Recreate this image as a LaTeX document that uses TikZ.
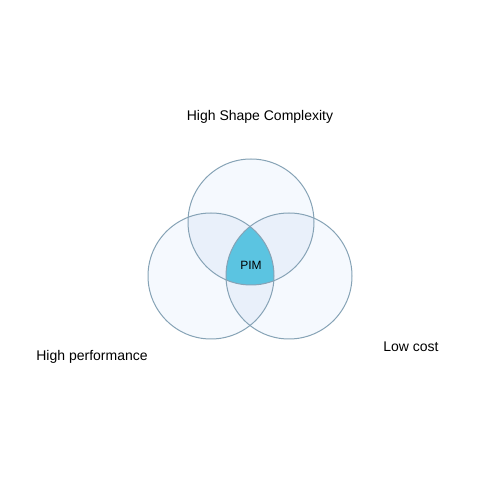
\documentclass[tikz,border=0pt]{standalone}
\usepackage{fontspec}
\setmainfont{Liberation Sans}
\definecolor{cfill}{HTML}{F5F9FE}
\definecolor{pfill}{HTML}{E9F0FA}
\definecolor{cfillc}{HTML}{5BC4E1}
\definecolor{cstroke}{HTML}{86A3B6}
\begin{document}
\begin{tikzpicture}[x=1pt,y=1pt,
  lbl/.style={font=\fontsize{14}{16}\selectfont, text=black, inner sep=0pt},
  ring/.style={draw=cstroke, line width=1pt}]
\useasboundingbox (0,0) rectangle (500,500);
\fill[white] (0,0) rectangle (500,500);
\def\rr{63}
\coordinate (T) at (251,278);
\coordinate (L) at (211,224);
\coordinate (R) at (289,224);
\fill[cfill] (T) circle (\rr);
\fill[cfill] (L) circle (\rr);
\fill[cfill] (R) circle (\rr);
\begin{scope}
  \clip (T) circle (\rr);
  \fill[pfill] (L) circle (\rr);
  \fill[pfill] (R) circle (\rr);
\end{scope}
\begin{scope}
  \clip (L) circle (\rr);
  \fill[pfill] (R) circle (\rr);
\end{scope}
\begin{scope}
  \clip (T) circle (\rr);
  \clip (L) circle (\rr);
  \fill[cfillc] (R) circle (\rr);
\end{scope}
\draw[ring] (T) circle (\rr);
\draw[ring] (L) circle (\rr);
\draw[ring] (R) circle (\rr);
\node[lbl, font=\fontsize{12}{14}\selectfont] (pim) at (251,235) {PIM};
\node[lbl] (top) at (260,383) {High Shape Complexity};
\node[lbl] (left) at (92,143) {High performance};
\node[lbl] (right) at (411,153) {Low cost};
\end{tikzpicture}
\end{document}
